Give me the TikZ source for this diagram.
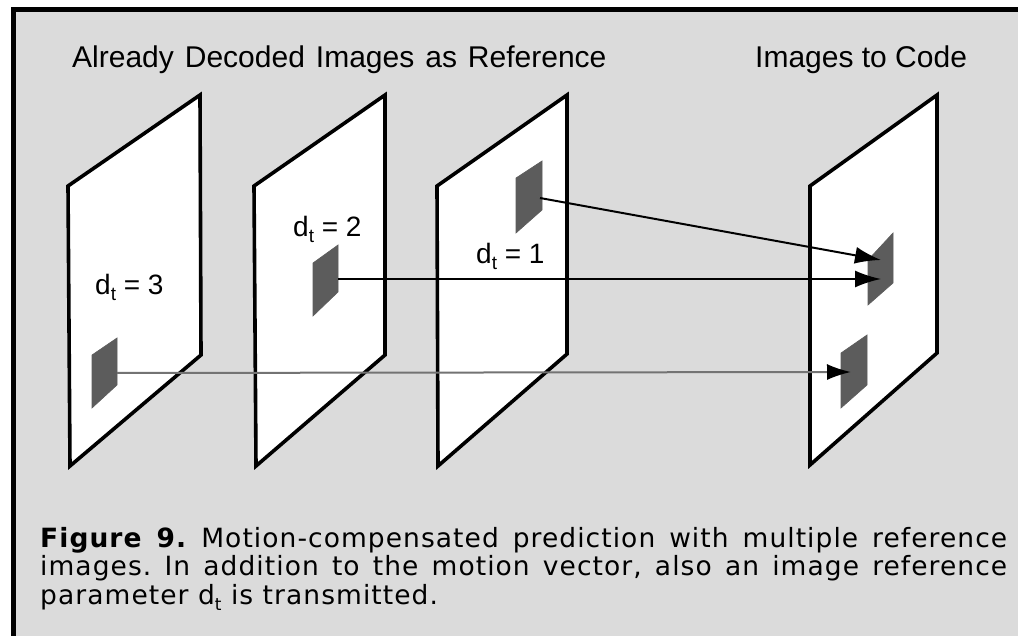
\documentclass[tikz,border=0pt]{standalone}
\usepackage{fontspec}
\newfontfamily\hdfont{Liberation Sans}
\newfontfamily\capfont[LetterSpace=4]{DejaVu Sans}
\usetikzlibrary{arrows.meta}
\definecolor{bggray}{gray}{0.86}
\definecolor{patchgray}{gray}{0.36}
\newcommand\lblsub[1]{\raisebox{-6pt}{\fontsize{19}{19}\selectfont #1}}
\begin{document}
\begin{tikzpicture}[x=1pt,y=-1pt,
  imgframe/.style={draw=black,line width=3.6pt,fill=white,line join=miter},
  imgpatch/.style={fill=patchgray,draw=patchgray,line width=0.6pt},
  mvec/.style={line width=2pt,-{Latex[length=26pt,width=17pt]}},
  hdtext/.style={font=\hdfont\fontsize{30}{36}\selectfont,inner sep=0pt,anchor=base west},
  lbltext/.style={font=\hdfont\fontsize{28}{32}\selectfont,inner sep=0pt,anchor=base west},
  captext/.style={font=\capfont\fontsize{26.5}{28.5}\selectfont\frenchspacing,inner sep=0pt,anchor=base west}]
\useasboundingbox (0,0) rectangle (1018,636);
\fill[white] (0,0) rectangle (1018,636);
\fill[bggray] (13,10) rectangle (1018,636);
\draw[line width=5pt] (13,636) -- (13,10) -- (1018,10);
% headings
\node[hdtext] (h1) at (72,68) {\spaceskip=11pt Already Decoded Images as Reference};
\node[hdtext] (h2) at (755,68) {Images to Code};
% frames
\draw[imgframe] (68,186) -- (200,95) -- (201,355) -- (70,466) -- cycle;
\draw[imgframe] (254,186) -- (385,95) -- (385,355) -- (256,466) -- cycle;
\draw[imgframe] (437,186) -- (567,95) -- (567,354) -- (438,466) -- cycle;
\draw[imgframe] (810,186) -- (937,95) -- (937,353) -- (810,465) -- cycle;
% patches
\filldraw[imgpatch] (92,355) -- (117,338) -- (117,385) -- (92,408) -- cycle;
\filldraw[imgpatch] (313,263) -- (338,245) -- (338,292) -- (313,316) -- cycle;
\filldraw[imgpatch] (516,178) -- (542,161) -- (542,210) -- (516,233) -- cycle;
\filldraw[imgpatch] (868,260) -- (893,233) -- (893,283) -- (868,305) -- cycle;
\filldraw[imgpatch] (841,353) -- (867,335) -- (867,385) -- (841,408) -- cycle;
% labels
\node[lbltext] (l3) at (95,295) {d\lblsub{t} = 3};
\node[lbltext] (l2) at (293,237) {d\lblsub{t} = 2};
\node[lbltext] (l1) at (476,264) {d\lblsub{t} = 1};
% motion vectors
\coordinate (s1) at (540,198); \coordinate (e1) at (881,260);
\coordinate (s2) at (338,279); \coordinate (e2) at (881,279);
\coordinate (s3) at (117,373); \coordinate (e3) at (851,372);
\draw[mvec] (s1) -- (e1);
\draw[mvec] (s2) -- (e2);
\draw[line width=2pt,draw=black!55,-{Latex[length=24pt,width=16pt,color=black]}] (s3) -- (e3);
% caption
\node[captext] (c1) at (40,547) {\makebox[967pt][s]{\textbf{Figure 9.} Motion-compensated prediction with multiple reference}};
\node[captext] (c2) at (40,575.5) {\makebox[967pt][s]{images. In addition to the motion vector, also an image reference}};
\node[captext] (c3) at (40,604) {parameter d\raisebox{-6pt}{\fontsize{17}{17}\selectfont t} is transmitted.};
\end{tikzpicture}
\end{document}
